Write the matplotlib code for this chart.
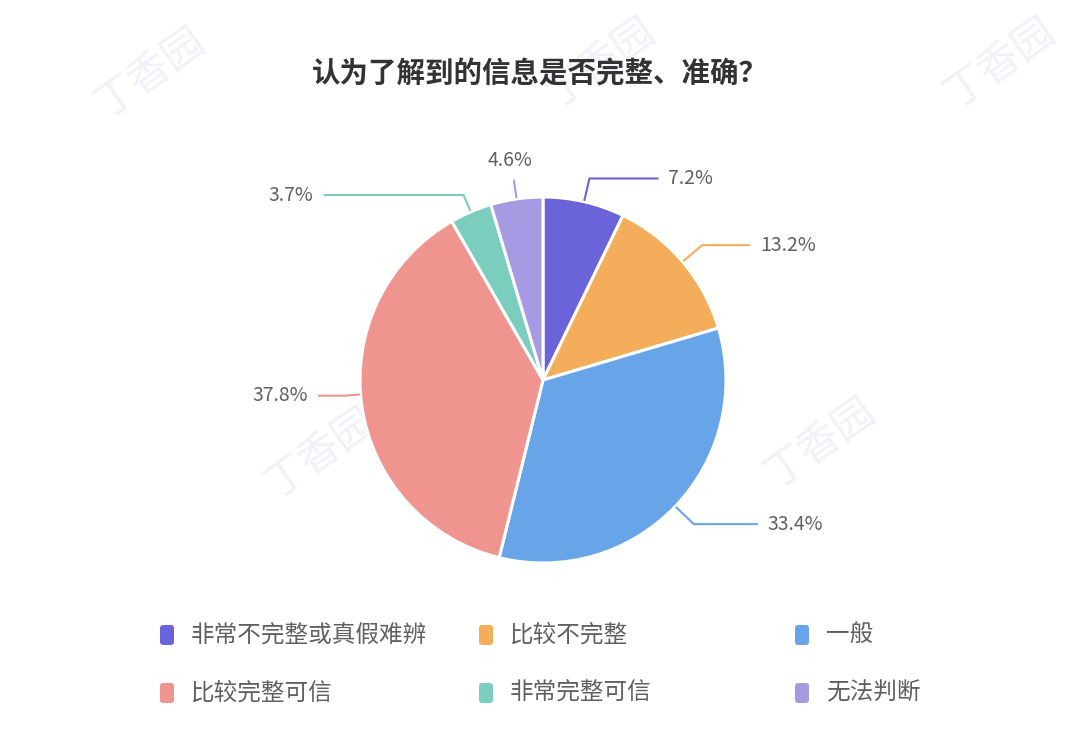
import numpy as np
import matplotlib.pyplot as plt
from matplotlib.patches import FancyBboxPatch

plt.rcParams['font.family'] = ['Noto Sans CJK SC', 'DejaVu Sans']

# data
title = "认为了解到的信息是否完整、准确？"
categories = ["非常不完整或真假难辨", "比较不完整", "一般", "比较完整可信", "非常完整可信", "无法判断"]
values = [7.2, 13.2, 33.4, 37.8, 3.7, 4.6]
colors = ["#6A63DA", "#F4AE5B", "#68A5E8", "#F09490", "#7BCDBD", "#A69AE3"]

W, H = 1080, 743
fig = plt.figure(figsize=(W / 100, H / 100), dpi=100)
ax = fig.add_axes([0, 0, 1, 1])

# faint watermarks
for (wx, wy) in [(150, 670), (600, 680), (1000, 680), (320, 290), (820, 300)]:
    ax.text(wx, wy, "丁香园", fontsize=30, color="#F2F0F8", rotation=35,
            ha='center', va='center', zorder=0)

cx, cy, R = 543, H - 380, 183
wedges, _ = ax.pie(values, colors=colors, startangle=90, counterclock=False,
                   center=(cx, cy), radius=R, frame=True,
                   wedgeprops=dict(edgecolor='white', linewidth=2.2))
ax.set_xlim(0, W)
ax.set_ylim(0, H)
ax.set_aspect('equal')
ax.axis('off')

ax.text(W / 2, H - 75, title, fontsize=20.5, fontweight='bold', color='#333333',
        ha='center', va='center')

# leader lines and labels
elbow_k = [1.13, 1.14, 1.14, 1.09, 1.10, 1.10]
shift = [0, 0, 0, -3.5, 0, 0]
tail = [68, 47, 63, 25, 139, 0]
for w, v, c, k, s, L in zip(wedges, values, colors, elbow_k, shift, tail):
    th = np.deg2rad((w.theta1 + w.theta2) / 2 + s)
    x0, y0 = cx + R * 1.01 * np.cos(th), cy + R * 1.01 * np.sin(th)
    x1, y1 = cx + R * k * np.cos(th), cy + R * k * np.sin(th)
    label = f"{v}%"
    if L == 0:
        ax.plot([x0, x1], [y0, y1], color=c, lw=1.5)
        ax.text(x1 - 4, y1 + 20, label, fontsize=14, color='#606060',
                ha='center', va='center')
        continue
    d = 1 if np.cos(th) >= 0 else -1
    x2 = x1 + d * L
    ax.plot([x0, x1, x2], [y0, y1, y1], color=c, lw=1.5)
    ax.text(x2 + d * 11, y1, label, fontsize=14, color='#606060',
            ha='left' if d > 0 else 'right', va='center')

# legend
col_x = [167, 486, 802]
row_y = [H - 635, H - 693]
for i, (name, c) in enumerate(zip(categories, colors)):
    lx, ly = col_x[i % 3], row_y[i // 3]
    ax.add_patch(FancyBboxPatch((lx - 7, ly - 10), 14, 20,
                                boxstyle="round,pad=0,rounding_size=3",
                                fc=c, ec='none'))
    ax.text(lx + 24, ly, name, fontsize=17, color='#606060',
            ha='left', va='center')

fig.savefig("out.png", dpi=100, facecolor='white')
